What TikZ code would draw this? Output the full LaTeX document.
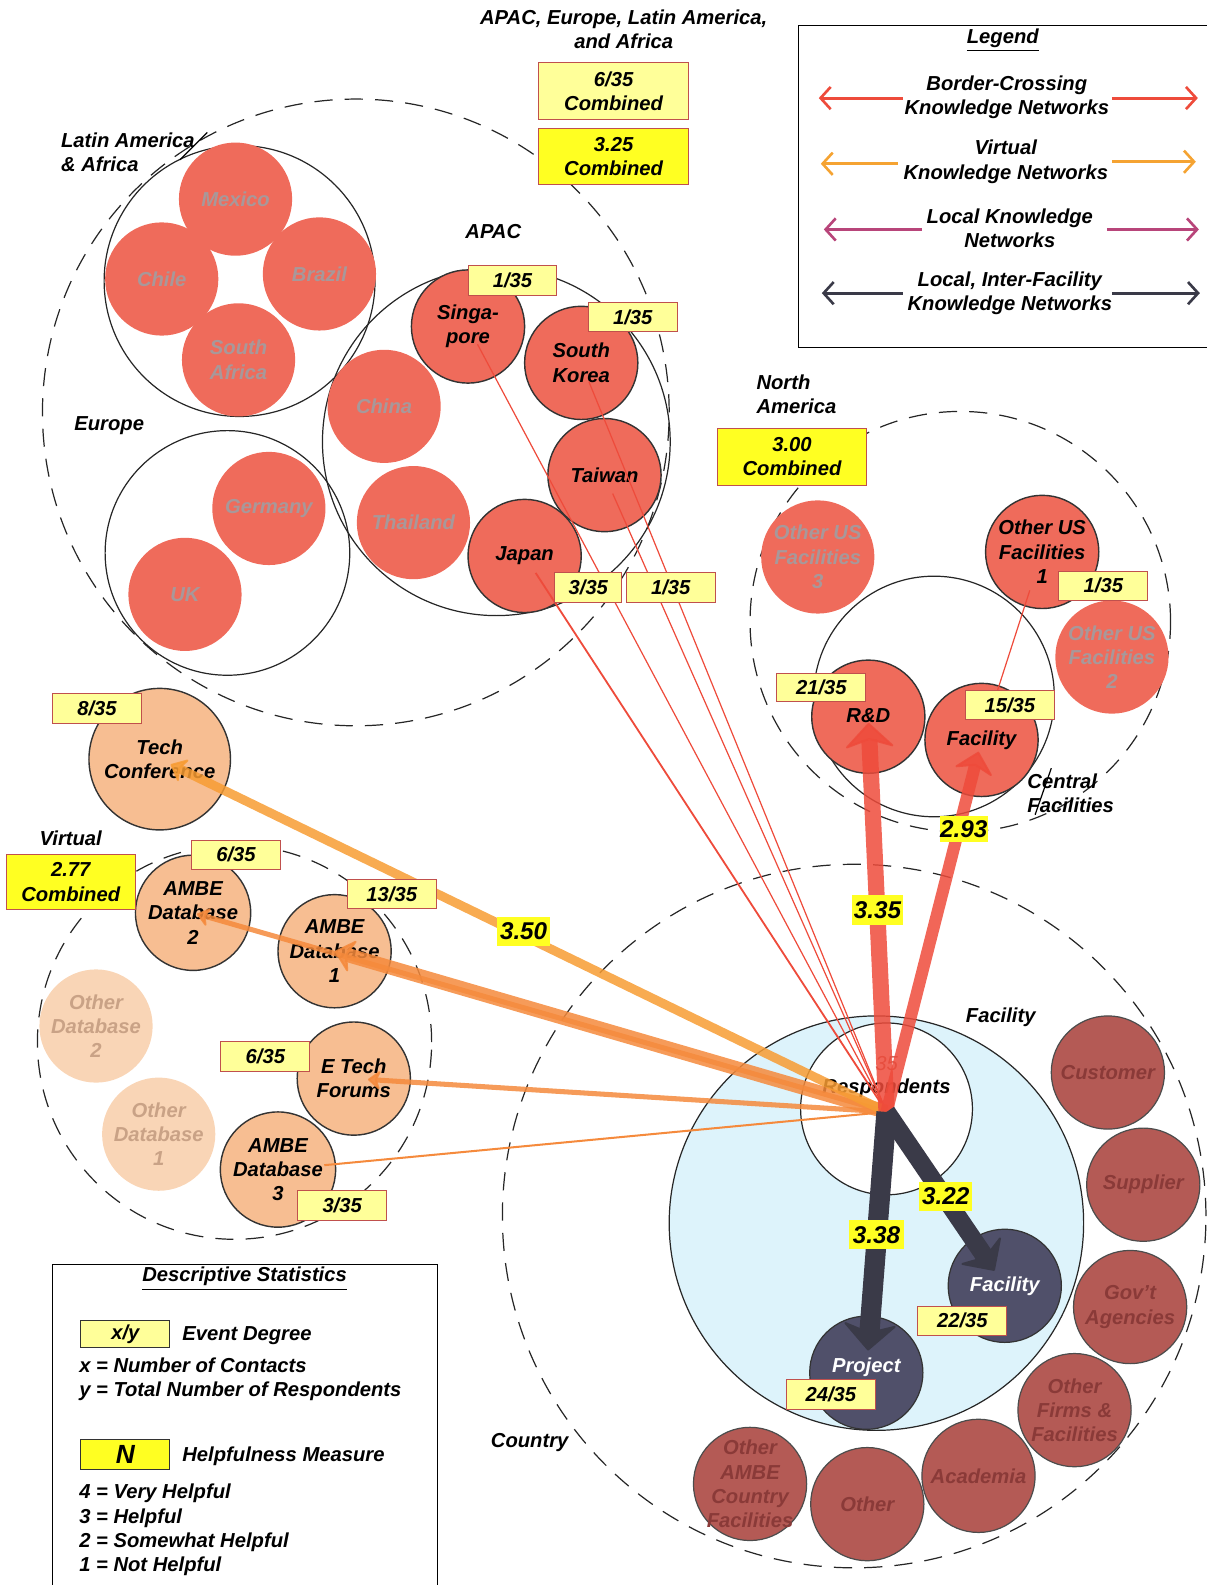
\documentclass[tikz,border=0pt]{standalone}
\usepackage{fontspec}
\setmainfont{Liberation Sans}
\usetikzlibrary{arrows.meta,calc}

\definecolor{yelpale}{HTML}{FFFF99}
\definecolor{yelbright}{HTML}{FFFF22}
\definecolor{boxedge}{HTML}{C0504D}
\definecolor{intl}{HTML}{EF6B5B}
\definecolor{intltext}{HTML}{A8989A}
\definecolor{virt}{HTML}{F7BE92}
\definecolor{virtfade}{HTML}{F9D5B6}
\definecolor{virtfadetext}{HTML}{C9A286}
\definecolor{loc}{HTML}{B45A55}
\definecolor{loctext}{HTML}{8A3A38}
\definecolor{slate}{HTML}{50506A}
\definecolor{skyfill}{HTML}{DDF3FB}
\definecolor{redline}{HTML}{EE4B3B}
\definecolor{orangeline}{HTML}{F58A3C}
\definecolor{magline}{HTML}{B8457A}
\definecolor{darkline}{HTML}{3A3A48}
\definecolor{legorange}{HTML}{F5A332}

\begin{document}
\begin{tikzpicture}[x=0.5pt,y=-0.5pt,
  every node/.style={inner sep=0pt, align=center, font=\fontsize{10}{12}\selectfont\bfseries\itshape},
  zone/.style={circle, draw=black!85, line width=0.6pt, minimum size=#1pt},
  dzone/.style={circle, draw=black!85, line width=0.6pt, dash pattern=on 9pt off 6pt, minimum size=#1pt},
  bub/.style={circle, inner sep=-8pt, minimum size=56pt, fill=intl, draw=black!80, line width=0.7pt},
  faintbub/.style={circle, inner sep=-8pt, minimum size=56pt, fill=intl, text=intltext},
  vbub/.style={bub, fill=virt},
  vfaint/.style={circle, inner sep=-8pt, minimum size=56pt, fill=virtfade, text=virtfadetext},
  lbub/.style={circle, inner sep=-8pt, minimum size=56pt, fill=loc, draw=black!70, line width=0.6pt, text=loctext},
  sbub/.style={circle, inner sep=-8pt, minimum size=56pt, fill=slate, draw=black!80, line width=0.6pt, text=white},
  deg/.style={rectangle, fill=yelpale, draw=boxedge, line width=0.5pt, minimum width=44pt, minimum height=14.5pt},
  comb/.style={deg, fill=yelbright, minimum width=74pt, minimum height=28pt},
  help/.style={rectangle, fill=yelbright, minimum width=26pt, minimum height=14.5pt, font=\fontsize{12}{14}\selectfont\bfseries\itshape},
  thinred/.style={draw=redline, line width=0.6pt, shorten >=10pt},
  flow/.style={opacity=0.85},
  legarrow/.style={line width=1.5pt, -{Straight Barb[length=5pt,width=11pt,line width=1.3pt]}},
]
\useasboundingbox (0,0) rectangle (1194,1568);

% ---------- region outlines ----------
\node[dzone=310] (intlzone) at (352,408) {};
\node[dzone=208] (nazone) at (950,615) {};
\node[dzone=195] (virtzone) at (232,1031) {};
\node[dzone=348] (countryzone) at (845,1203) {};
\node[zone=134] (lataf) at (237,278) {};
\node[zone=121] (europe) at (225,547) {};
\node[zone=172] (apac) at (491,437) {};
\node[zone=119] (central) at (924,689) {};
\node[zone=205, fill=skyfill] (facilityzone) at (867,1210) {};
\node[zone=85, fill=white] (respzone) at (877,1097) {};

% ---------- international bubbles ----------
\node[faintbub] (mexico) at (233,197) {Mexico};
\node[faintbub] (chile) at (160,276) {Chile};
\node[faintbub] (brazil) at (316,271) {Brazil};
\node[faintbub] (safrica) at (236,356) {South\\Africa};
\node[faintbub] (germany) at (266,503) {Germany};
\node[faintbub] (uk) at (183,588) {UK};
\node[faintbub] (china) at (380,402) {China};
\node[faintbub] (thailand) at (409,517) {Thailand};
\node[bub] (sg) at (463,323) {Singa-\\pore};
\node[bub] (sk) at (575,359) {South\\Korea};
\node[bub] (tw) at (598,470) {Taiwan};
\node[bub] (jp) at (519,550) {Japan};

% ---------- North America ----------
\node[faintbub] (ous3) at (809,551) {Other US\\Facilities\\3};
\node[bub] (ous1) at (1031,546) {Other US\\Facilities\\1};
\node[faintbub] (ous2) at (1100,650) {Other US\\Facilities\\2};
\node[bub] (rd) at (859,709) {\raisebox{1pt}{R\&D}};
\node[bub] (nfac) at (971,732) {Facility};

% ---------- virtual ----------
\node[vbub, minimum size=70pt] (tc) at (158,751) {Tech\\Conference};
\node[vbub, minimum size=57pt] (db2) at (191,903) {AMBE\\Database\\2};
\node[vbub] (db1) at (331,941) {AMBE\\Database\\1};
\node[vfaint] (od2) at (95,1015) {Other\\Database\\2};
\node[vfaint] (od1) at (157,1122) {Other\\Database\\1};
\node[vbub] (et) at (350,1067) {E Tech\\Forums};
\node[vbub, minimum size=57pt] (db3) at (275,1157) {AMBE\\Database\\3};

% ---------- local ----------
\node[sbub] (project) at (857,1358) {\raisebox{7pt}{Project}};
\node[sbub] (lfac) at (994,1272) {Facility};
\node[lbub] (customer) at (1096,1061) {Customer};
\node[lbub] (supplier) at (1131,1172) {Supplier};
\node[lbub] (gov) at (1118,1293) {Gov't\\Agencies};
\node[lbub] (ofirms) at (1063,1395) {Other\\Firms \&\\Facilities};
\node[lbub] (academia) at (968,1460) {Academia};
\node[lbub] (other) at (858,1488) {Other};
\node[lbub] (oambe) at (742,1468) {Other\\AMBE\\Country\\Facilities};

% ---------- region labels ----------
\node (hdr) at (617,29) {APAC, Europe, Latin America,\\and Africa};
\node[anchor=west, align=left] (latlbl) at (60,151) {Latin America\\\& Africa};
\draw[line width=0.6pt] (178,158) -- (205,131);
\node (apaclbl) at (488,229) {APAC};
\node (eurlbl) at (108,421) {Europe};
\node[anchor=west, align=left] (nalbl) at (748,390) {North\\America};
\node[anchor=west, align=left] (centlbl) at (1016,785) {Central\\Facilities};
\draw[line width=0.6pt] (1040,760) -- (1024,806);
\node (virtlbl) at (70,829) {Virtual};
\node (faclbl) at (990,1006) {Facility};
\node (countrylbl) at (524,1427) {Country};
\node[text=redline!60!gray, font=\fontsize{10}{12}\selectfont\itshape] (resp35) at (877,1052) {35};
\node (resplbl) at (877,1077) {Respondents};

% ---------- connectors ----------
\coordinate (hub) at (877,1100);
\draw[thinred] (hub) -- (sg.center);
\draw[thinred] (hub) -- (sk.center);
\draw[thinred] (hub) -- (tw.center);
\draw[thinred, line width=0.9pt] (hub) -- (jp.center);
\draw[draw=redline, line width=0.6pt, shorten <=22pt, shorten >=20pt] (nfac.center) -- (ous1.center);

\draw[orangeline, line width=1pt, shorten >=23pt] (hub) -- (db3.center);
\draw[flow, orangeline, line width=2.5pt, shorten >=7pt, -{Stealth[round,length=7pt,width=11pt,line width=1pt]}] (hub) -- (et.center);
\draw[flow, orangeline, line width=2.5pt, shorten >=2pt, -{Stealth[round,length=7pt,width=11pt,line width=1pt]}] (hub) -- (db2.center);
\draw[flow, orangeline, line width=7pt, shorten >=0pt, -{Stealth[round,length=10pt,width=18pt,line width=1pt]}] (hub) -- (db1.center);
\draw[flow, orangeline!85!yellow, line width=4.5pt, shorten >=6pt, -{Stealth[round,length=8pt,width=14pt,line width=1pt]}] (hub) -- (tc.center);

\draw[flow, redline, line width=8pt, shorten >=3pt, -{Stealth[round,length=13pt,width=26pt,line width=1pt]}] (hub) -- (rd.center);
\draw[flow, redline, line width=6pt, shorten >=6pt, -{Stealth[round,length=11pt,width=21pt,line width=1pt]}] (hub) -- (nfac.center);

\draw[darkline, line width=10pt, shorten >=11pt, -{Stealth[round,length=14pt,width=28pt,line width=1pt]}] (hub) -- (project.center);
\draw[darkline, line width=9pt, shorten >=9pt, -{Stealth[round,length=13pt,width=26pt,line width=1pt]}] (hub) -- (lfac.center);

% ---------- statistics boxes ----------
\node[deg, minimum width=74pt, minimum height=28pt] (intldeg) at (607,90) {6/35\\Combined};
\node[comb] (intlhelp) at (607,155) {3.25\\Combined};
\node[deg] (sgdeg) at (507,277.5) {1/35};
\node[deg] (skdeg) at (626,313.5) {1/35};
\node[deg, minimum width=33pt, minimum height=15pt] (jpdeg) at (582,581) {3/35};
\node[deg, minimum height=15pt] (twdeg) at (663.5,581) {1/35};
\node[comb, minimum width=73.5pt] (nahelp) at (783.5,452) {3.00\\Combined};
\node[deg, minimum height=14pt] (rddeg) at (812.5,680) {21/35};
\node[deg] (ous1deg) at (1091.5,579.5) {1/35};
\node[deg] (nfacdeg) at (999,697.5) {15/35};
\node[help, minimum width=23.5pt, minimum height=13pt] (h293) at (953.5,820) {2.93};
\node[deg, minimum height=15pt] (tcdeg) at (96,701) {8/35};
\node[comb, minimum width=64pt, minimum height=27.5pt] (virthelp) at (70,872.5) {2.77\\Combined};
\node[deg] (db2deg) at (233.5,845.5) {6/35};
\node[deg] (db1deg) at (387.5,884.5) {13/35};
\node[deg, minimum height=15pt] (etdeg) at (262.5,1045) {6/35};
\node[deg] (db3deg) at (338.5,1192.5) {3/35};
\node[help] (h350) at (518,921.5) {3.50};
\node[help, minimum width=25pt, minimum height=15pt] (h335) at (868,900) {3.35};
\node[help, minimum width=27pt] (h338) at (867,1221.5) {3.38};
\node[help] (h322) at (935.5,1183.5) {3.22};
\node[deg] (prdeg) at (822,1379.5) {24/35};
\node[deg] (lfdeg) at (952,1306.5) {22/35};

% ---------- legend ----------
\draw[line width=0.7pt] (1200,25) -- (790,25) -- (790,344) -- (1200,344);
\node (legtitle) at (992,40) {\underline{Legend}};
\node (leg1) at (996,96) {Border-Crossing\\Knowledge Networks};
\node (leg2) at (995,160) {Virtual\\Knowledge Networks};
\node (leg3) at (999,226) {Local Knowledge\\Networks};
\node (leg4) at (999,290) {Local, Inter-Facility\\Knowledge Networks};
\coordinate (l1a) at (893,97);  \coordinate (l1b) at (810,97);
\coordinate (r1a) at (1100,97); \coordinate (r1b) at (1185,97);
\coordinate (l2a) at (888,162); \coordinate (l2b) at (812,162);
\coordinate (r2a) at (1100,160); \coordinate (r2b) at (1183,160);
\coordinate (l3a) at (912,227); \coordinate (l3b) at (815,227);
\coordinate (r3a) at (1095,227); \coordinate (r3b) at (1186,227);
\coordinate (l4a) at (893,290); \coordinate (l4b) at (813,290);
\coordinate (r4a) at (1100,290); \coordinate (r4b) at (1187,290);
\draw[legarrow, redline] (l1a) -- (l1b);
\draw[legarrow, redline] (r1a) -- (r1b);
\draw[legarrow, legorange] (l2a) -- (l2b);
\draw[legarrow, legorange] (r2a) -- (r2b);
\draw[legarrow, magline] (l3a) -- (l3b);
\draw[legarrow, magline] (r3a) -- (r3b);
\draw[legarrow, darkline] (l4a) -- (l4b);
\draw[legarrow, darkline] (r4a) -- (r4b);

% ---------- descriptive statistics ----------
\draw[line width=0.7pt] (52,1575) -- (52,1251) -- (433,1251) -- (433,1575);
\node (dstitle) at (242,1265) {\underline{Descriptive Statistics}};
\node[deg, draw=black!80, minimum height=13.5pt] (xybox) at (124,1319.5) {x/y};
\node[anchor=west] (evdeg) at (180,1321) {Event Degree};
\node[anchor=west, align=left] (xydef) at (78,1364.5) {x = Number of Contacts\\y = Total Number of Respondents};
\node[deg, fill=yelbright, draw=black!80, minimum height=15pt, font=\fontsize{13}{14}\selectfont\bfseries\itshape] (nbox) at (124,1439) {N};
\node[anchor=west] (helpm) at (180,1441) {Helpfulness Measure};
\node[anchor=west, align=left] (ndef) at (78,1513.5) {4 = Very Helpful\\3 = Helpful\\2 = Somewhat Helpful\\1 = Not Helpful};
\end{tikzpicture}
\end{document}
